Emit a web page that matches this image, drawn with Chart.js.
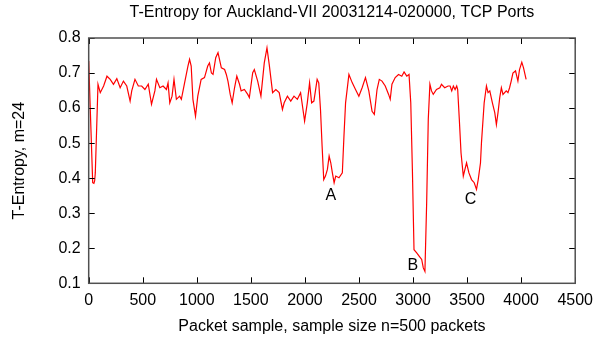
<!DOCTYPE html>
<html>
<head>
<meta charset="utf-8">
<script src="https://cdn.jsdelivr.net/npm/chart.js@4"></script>
<style>
html,body{margin:0;padding:0;background:#fff;}
#wrap{width:601px;height:338px;}
</style>
</head>
<body>
<div id="wrap"><canvas id="c" width="601" height="338"></canvas></div>
<script>
const chartTitle = "T-Entropy for Auckland-VII 20031214-020000, TCP Ports";
const xAxisTitle = "Packet sample, sample size n=500 packets";
const yAxisTitle = "T-Entropy, m=24";

const sampleX = [
  0, 37, 48, 55, 61, 86, 107, 138, 169, 199, 229, 260, 291, 321, 352, 383, 398, 428, 459, 490,
  520, 551, 581, 612, 627, 658, 688, 719, 734, 750, 771, 789, 811, 841, 857, 887, 918, 933, 948, 964,
  988, 1009, 1040, 1071, 1101, 1117, 1135, 1150, 1175, 1196, 1227, 1257, 1273, 1288, 1309, 1327, 1349, 1370, 1395, 1410,
  1440, 1471, 1486, 1517, 1532, 1563, 1593, 1624, 1649, 1670, 1701, 1731, 1762, 1792, 1808, 1838, 1869, 1899, 1930, 1960,
  1997, 2022, 2043, 2062, 2083, 2113, 2128, 2144, 2159, 2174, 2190, 2208, 2224, 2239, 2254, 2270, 2285, 2315, 2346, 2361,
  2376, 2407, 2438, 2468, 2499, 2529, 2560, 2591, 2621, 2642, 2667, 2688, 2713, 2743, 2774, 2789, 2805, 2835, 2866, 2896,
  2917, 2942, 2963, 2979, 2994, 3009, 3034, 3058, 3080, 3095, 3110, 3126, 3141, 3156, 3171, 3187, 3217, 3248, 3263, 3293,
  3324, 3343, 3358, 3373, 3389, 3404, 3413, 3428, 3444, 3465, 3480, 3495, 3517, 3541, 3566, 3587, 3603, 3624, 3633, 3658,
  3679, 3694, 3710, 3734, 3756, 3771, 3786, 3802, 3817, 3832, 3862, 3878, 3893, 3908, 3924, 3948, 3970, 3985, 4006, 4022,
  4046
];
const entropy = [
  0.734, 0.387, 0.385, 0.392, 0.415, 0.668, 0.644, 0.663, 0.691, 0.682, 0.668, 0.684, 0.658, 0.677, 0.663, 0.620, 0.649, 0.682, 0.663, 0.663,
  0.653, 0.668, 0.611, 0.649, 0.682, 0.658, 0.663, 0.653, 0.672, 0.615, 0.634, 0.682, 0.625, 0.634, 0.625, 0.672, 0.720, 0.739, 0.720, 0.625,
  0.577, 0.634, 0.682, 0.687, 0.720, 0.729, 0.700, 0.696, 0.744, 0.758, 0.715, 0.710, 0.696, 0.677, 0.639, 0.615, 0.658, 0.691, 0.668, 0.649,
  0.653, 0.639, 0.630, 0.701, 0.710, 0.677, 0.634, 0.729, 0.772, 0.724, 0.644, 0.653, 0.644, 0.596, 0.615, 0.634, 0.620, 0.634, 0.625, 0.644,
  0.563, 0.615, 0.672, 0.615, 0.620, 0.682, 0.672, 0.596, 0.491, 0.396, 0.406, 0.425, 0.463, 0.444, 0.415, 0.387, 0.406, 0.401, 0.415, 0.520,
  0.615, 0.696, 0.672, 0.653, 0.634, 0.658, 0.687, 0.649, 0.591, 0.582, 0.653, 0.682, 0.677, 0.663, 0.639, 0.625, 0.668, 0.687, 0.696, 0.691,
  0.703, 0.691, 0.696, 0.615, 0.425, 0.196, 0.187, 0.177, 0.168, 0.144, 0.134, 0.329, 0.568, 0.668, 0.649, 0.639, 0.653, 0.658, 0.668, 0.658,
  0.663, 0.663, 0.649, 0.663, 0.653, 0.663, 0.653, 0.568, 0.472, 0.406, 0.425, 0.444, 0.415, 0.396, 0.387, 0.368, 0.396, 0.444, 0.501, 0.615,
  0.663, 0.644, 0.649, 0.615, 0.587, 0.553, 0.587, 0.630, 0.658, 0.639, 0.649, 0.644, 0.658, 0.677, 0.700, 0.706, 0.677, 0.710, 0.731, 0.715,
  0.682
];
const xTicks = [0, 500, 1000, 1500, 2000, 2500, 3000, 3500, 4000, 4500];
const yTicks = [0.1, 0.2, 0.3, 0.4, 0.5, 0.6, 0.7, 0.8];
const markLabels = ["A", "B", "C"];
const markX = [2240, 2997, 3531];
const markY = [0.351, 0.151, 0.340];

const FONT = "'Liberation Sans', Arial, sans-serif";
Chart.defaults.font.family = FONT;
Chart.defaults.font.size = 16;
Chart.defaults.color = '#000';

const points = sampleX.map((x, i) => ({x: x, y: entropy[i]}));

const framePlugin = {
  id: 'frame',
  afterDatasetsDraw(chart) {
    const {ctx, chartArea: a, scales} = chart;
    const xs = scales.x, ys = scales.y;
    ctx.save();
    // ticks inward, mirrored
    ctx.strokeStyle = '#000';
    ctx.lineWidth = 1;
    const tl = 6;
    ctx.beginPath();
    xTicks.forEach(v => {
      const px = Math.round(xs.getPixelForValue(v)) + 0.5;
      ctx.moveTo(px, a.bottom); ctx.lineTo(px, a.bottom - tl);
      ctx.moveTo(px, a.top); ctx.lineTo(px, a.top + tl);
    });
    yTicks.forEach(v => {
      const py = Math.round(ys.getPixelForValue(v)) + 0.5;
      ctx.moveTo(a.left, py); ctx.lineTo(a.left + tl, py);
      ctx.moveTo(a.right, py); ctx.lineTo(a.right - tl, py);
    });
    ctx.stroke();
    // frame
    ctx.strokeStyle = '#505050';
    ctx.lineWidth = 1.5;
    ctx.strokeRect(a.left, a.top, a.right - a.left, a.bottom - a.top);
    // point labels
    ctx.fillStyle = '#000';
    ctx.font = '16px ' + FONT;
    ctx.textAlign = 'center';
    ctx.textBaseline = 'middle';
    markLabels.forEach((t, i) => {
      ctx.fillText(t, xs.getPixelForValue(markX[i]), ys.getPixelForValue(markY[i]));
    });
    // title
    ctx.fillText(chartTitle, (a.left + a.right) / 2, 13);
    ctx.restore();
  }
};

new Chart(document.getElementById('c'), {
  type: 'line',
  data: {
    datasets: [{
      data: points,
      borderColor: '#ff0000',
      borderWidth: 1.2,
      pointRadius: 0,
      tension: 0,
      fill: false
    }]
  },
  options: {
    responsive: false,
    animation: false,
    parsing: true,
    layout: {padding: {top: 38, right: 21.5, left: 0, bottom: 0}},
    plugins: {legend: {display: false}, tooltip: {enabled: false}, title: {display: false}},
    scales: {
      x: {
        type: 'linear',
        min: 0, max: 4500,
        afterBuildTicks: s => { s.ticks = xTicks.map(v => ({value: v})); },
        afterFit: s => { s.height = 54.7; },
        grid: {display: false, drawTicks: false},
        border: {display: false},
        ticks: {padding: 8, maxRotation: 0, autoSkip: false, callback: v => String(v)},
        title: {display: true, text: xAxisTitle, padding: {top: 2, bottom: 2}}
      },
      y: {
        type: 'linear',
        min: 0.1, max: 0.8,
        afterBuildTicks: s => { s.ticks = yTicks.map(v => ({value: v})); },
        afterFit: s => { s.width = 88.7; },
        grid: {display: false, drawTicks: false},
        border: {display: false},
        ticks: {padding: 8, autoSkip: false, callback: v => Number(v).toFixed(1)},
        title: {display: true, text: yAxisTitle, padding: {top: 10, bottom: 10}}
      }
    }
  },
  plugins: [framePlugin]
});
</script>
</body>
</html>
